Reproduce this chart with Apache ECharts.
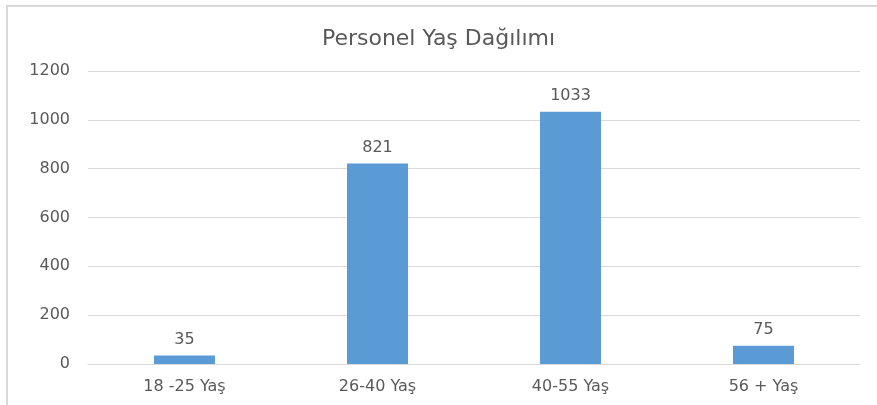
<!DOCTYPE html>
<html>
<head>
<meta charset="utf-8">
<script src="https://cdn.jsdelivr.net/npm/echarts@6/dist/echarts.min.js"></script>
<style>html,body{margin:0;padding:0;background:#fff;}#c{width:877px;height:405px;}</style>
</head>
<body>
<div id="c"></div>
<script>
const title = 'Personel Yaş Dağılımı';
const categories = ['18 -25 Yaş', '26-40 Yaş', '40-55 Yaş', '56 + Yaş'];
const values = [35, 821, 1033, 75];
const yTicks = [0, 200, 400, 600, 800, 1000, 1200];

const chart = echarts.init(document.getElementById('c'), null, {renderer: 'canvas'});
const txt = '#595959';
const font = 'DejaVu Sans';
chart.setOption({
  animation: false,
  backgroundColor: '#fff',
  title: {
    text: title, left: 'center', top: 23,
    textStyle: {fontFamily: font, fontSize: 22, fontWeight: 'normal', color: txt}
  },
  graphic: [{
    type: 'rect', silent: true,
    shape: {x: 7, y: 6, width: 900, height: 420},
    style: {fill: 'none', stroke: '#d9d9d9', lineWidth: 2}
  }],
  grid: {left: 88, right: 17, top: 71, bottom: 41},
  xAxis: {
    type: 'category', data: categories,
    axisLine: {lineStyle: {color: '#d9d9d9', width: 1}},
    axisTick: {show: false},
    axisLabel: {color: txt, fontFamily: font, fontSize: 16, margin: 15}
  },
  yAxis: {
    type: 'value', min: yTicks[0], max: yTicks[yTicks.length - 1], interval: 200,
    axisLine: {show: false}, axisTick: {show: false},
    splitLine: {lineStyle: {color: '#d9d9d9', width: 1}},
    axisLabel: {color: txt, fontFamily: font, fontSize: 16, margin: 18, formatter: v => String(v)}
  },
  series: [{
    type: 'bar', data: values, barWidth: '31.6%',
    itemStyle: {color: '#5b9bd5'},
    label: {show: true, position: 'top', distance: 8, color: txt, fontFamily: font, fontSize: 16}
  }]
});
</script>
</body>
</html>
